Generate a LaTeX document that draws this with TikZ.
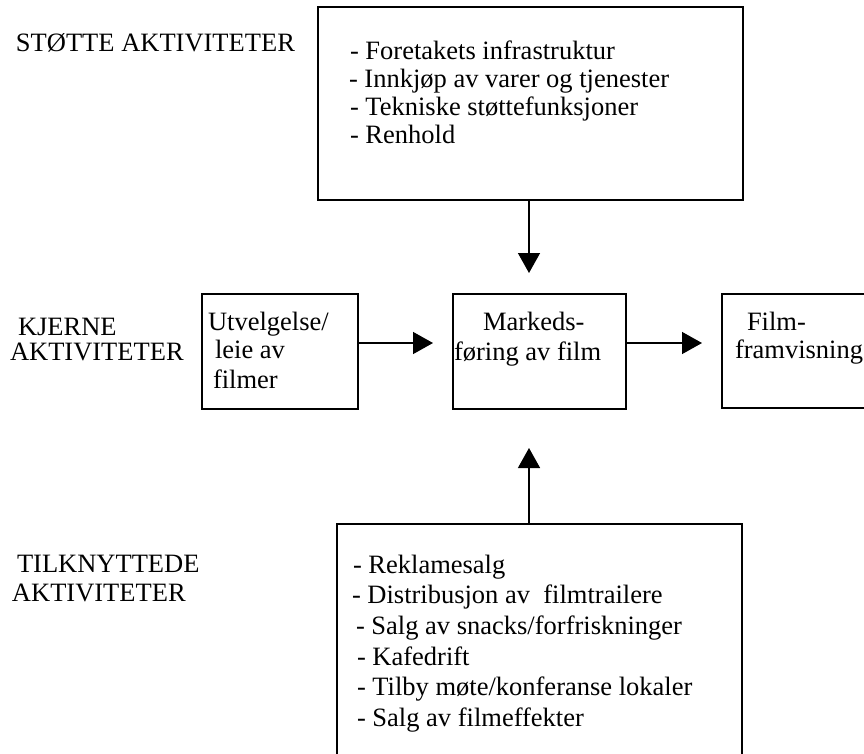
\documentclass[tikz,border=0pt]{standalone}
\usepackage{fontspec}
\setmainfont{Liberation Serif}
\usetikzlibrary{arrows.meta}
\begin{document}
\begin{tikzpicture}[x=1pt,y=-1pt,
  box/.style={draw, line width=1.4pt, rectangle, anchor=north west, inner sep=0pt, outer sep=0pt},
  txt/.style={anchor=base west, inner sep=0pt, outer sep=0pt, font=\fontsize{26.5}{30}\selectfont},
  arr/.style={line width=1.4pt, -{Triangle[length=20pt,width=22pt]}}]
\useasboundingbox (0,0) rectangle (864,753);
\clip (0,0) rectangle (864,753);
% boxes
\node[box, minimum width=425pt, minimum height=193pt] (top) at (318,7) {};
\node[box, minimum width=156pt, minimum height=115pt] (utv) at (202,294) {};
\node[box, minimum width=173pt, minimum height=115pt] (mark) at (453,294) {};
\node[box, minimum width=170pt, minimum height=114pt] (film) at (722,294) {};
\node[box, minimum width=405pt, minimum height=260pt] (bot) at (337,524) {};
% arrow tips
\coordinate (tipA) at (529,273);
\coordinate (tipB) at (433,343);
\coordinate (tipC) at (702,343);
\coordinate (tipD) at (529,448);
\draw[arr] (top.south -| tipA) -- (tipA);
\draw[arr] (utv.east |- tipB) -- (tipB);
\draw[arr] (mark.east |- tipC) -- (tipC);
\draw[arr] (bot.north -| tipD) -- (tipD);
% left labels
\node[txt] (l1) at (16,51) {STØTTE AKTIVITETER};
\node[txt] (l2) at (18,335) {KJERNE};
\node[txt] (l3) at (10,360) {AKTIVITETER};
\node[txt] (l4) at (17,572) {TILKNYTTEDE};
\node[txt] (l5) at (12,601) {AKTIVITETER};
% top box text
\node[txt] (t1) at (350,59) {- Foretakets infrastruktur};
\node[txt] (t2) at (349,87) {- Innkjøp av varer og tjenester};
\node[txt] (t3) at (350,115) {- Tekniske støttefunksjoner};
\node[txt] (t4) at (350,143) {- Renhold};
% middle texts
\node[txt] (u1) at (208,330) {Utvelgelse/};
\node[txt] (u2) at (215,358) {leie av};
\node[txt] (u3) at (213,388) {filmer};
\node[txt] (m1) at (483,330) {Markeds-};
\node[txt] (m2) at (454,360) {føring av film};
\node[txt] (f1) at (747,330) {Film-};
\node[txt] (f2) at (735,358) {framvisning};
% bottom box text
\node[txt] (b1) at (353,573) {- Reklamesalg};
\node[txt] (b2) at (352,603) {- Distribusjon av\ \ filmtrailere};
\node[txt] (b3) at (356,634) {- Salg av snacks/forfriskninger};
\node[txt] (b4) at (357,665) {- Kafedrift};
\node[txt] (b5) at (357,695) {- Tilby møte/konferanse lokaler};
\node[txt] (b6) at (357,726) {- Salg av filmeffekter};
\end{tikzpicture}
\end{document}
